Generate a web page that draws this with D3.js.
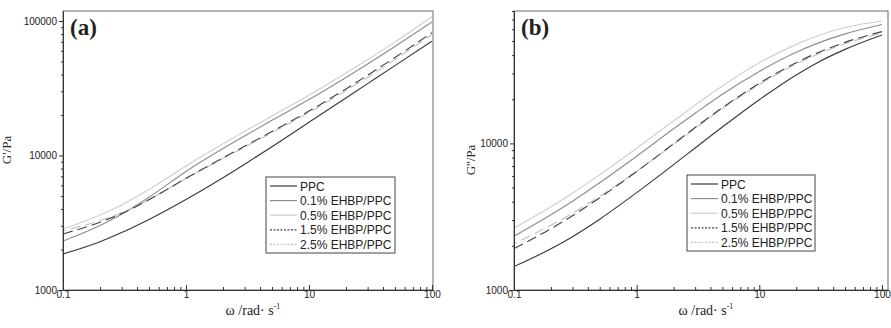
<!DOCTYPE html>
<html>
<head>
<meta charset="utf-8">
<script src="https://cdn.jsdelivr.net/npm/d3@7"></script>
<style>
  body { margin: 0; background: #fff; }
  svg { display: block; }
  .tick text { font-family: 'Liberation Sans', Arial, sans-serif; font-size: 10px; fill: #222; }
  .tick line { stroke: #333; }
  .legend text { font-family: 'Liberation Sans', Arial, sans-serif; font-size: 12px; fill: #222; }
  .title { font-family: 'Liberation Serif', 'Times New Roman', serif; fill: #222; }
</style>
</head>
<body>
<svg id="chart" width="891" height="328"></svg>
<script>
// angular frequency, rad/s
const omega = [0.1, 0.2, 0.3, 0.5, 1, 2, 3, 5, 10, 20, 30, 50, 100];

const seriesNames = ['PPC', '0.1% EHBP/PPC', '0.5% EHBP/PPC', '1.5% EHBP/PPC', '2.5% EHBP/PPC'];

// (a) storage modulus G', Pa
const gStorePPC = [1853, 2286, 2672, 3344, 4709, 6839, 8617, 11630, 17650, 26810, 34240, 46600, 70770];
const gStore01 = [2313, 3017, 3660, 4889, 7617, 11270, 13990, 18270, 26040, 38080, 47970, 64750, 98300];
const gStore05 = [2840, 3617, 4293, 5578, 8369, 12240, 15130, 19670, 28030, 40990, 51640, 69670, 108000];
const gStore15 = [2609, 3192, 3705, 4684, 6768, 9598, 11730, 15080, 21380, 31270, 39540, 53530, 81850];
const gStore25 = [2746, 3286, 3750, 4700, 6734, 9499, 11570, 14800, 20840, 30330, 38210, 51640, 79380];

// (b) loss modulus G'', Pa
const gLossPPC = [1445, 1910, 2312, 3041, 4613, 7164, 9305, 12930, 19860, 29290, 35680, 43800, 54890];
const gLoss01 = [2330, 3263, 4030, 5395, 8182, 12570, 16050, 21650, 30990, 41860, 48280, 55840, 64710];
const gLoss05 = [2641, 3698, 4570, 6115, 9276, 14250, 18240, 24620, 35460, 47360, 54280, 61720, 68340];
const gLoss15 = [1916, 2620, 3212, 4259, 6430, 9938, 12830, 17520, 25680, 35500, 41530, 48890, 57890];
const gLoss25 = [2072, 2768, 3341, 4360, 6450, 9844, 12650, 17300, 25200, 34740, 40620, 47890, 56460];

const xTickValues = [0.1, 1, 10, 100];
const yTickValuesA = [1000, 10000, 100000];
const yTickValuesB = [1000, 10000];

const seriesStyle = [
  { color: '#3a3a3a', dash: null, legendDash: null },
  { color: '#8e8e8e', dash: null, legendDash: null },
  { color: '#cfcfcf', dash: null, legendDash: null },
  { color: '#444444', dash: '10,5', offset: 0, legendDash: '2,1.5' },
  { color: '#c2c2c2', dash: '10,5', offset: 7, legendDash: '2,1.5' }
];

const svg = d3.select('#chart');

function drawPanel(p) {
  const x = d3.scaleLog().domain([omega[0], p.xMax]).range([p.left, p.right]);
  const y = d3.scaleLog().domain([1000, p.yMax]).range([p.bottom, p.top]);
  const g = svg.append('g');

  g.append('clipPath').attr('id', 'clip-' + p.id)
    .append('rect')
    .attr('x', p.left).attr('y', p.top)
    .attr('width', p.right - p.left).attr('height', p.bottom - p.top);

  const line = d3.line()
    .x((d, i) => x(omega[i]))
    .y(d => y(d))
    .curve(d3.curveMonotoneX);

  // draw light ones first, dark ones on top
  [2, 1, 4, 3, 0].forEach(k => {
    const s = seriesStyle[k];
    g.append('path')
      .datum(p.series[k])
      .attr('clip-path', 'url(#clip-' + p.id + ')')
      .attr('d', line)
      .attr('fill', 'none')
      .attr('stroke', s.color)
      .attr('stroke-width', 1.15)
      .attr('stroke-dasharray', s.dash)
      .attr('stroke-dashoffset', s.offset || 0);
  });

  // frame
  g.append('rect')
    .attr('x', p.left).attr('y', p.top)
    .attr('width', p.right - p.left).attr('height', p.bottom - p.top)
    .attr('fill', 'none').attr('stroke', '#6a6a6a').attr('stroke-width', 1);

  // y axis
  const yMinor = y.ticks().filter(v => p.yTicks.indexOf(v) < 0);
  g.append('g')
    .attr('transform', `translate(${p.left},0)`)
    .call(d3.axisLeft(y).tickValues(yMinor).tickSize(2).tickSizeOuter(0).tickFormat(''))
    .call(a => a.select('.domain').remove());
  g.append('g')
    .attr('transform', `translate(${p.left},0)`)
    .call(d3.axisLeft(y).tickValues(p.yTicks).tickSize(4).tickSizeOuter(0).tickPadding(2).tickFormat(d3.format('d')))
    .call(a => a.select('.domain').attr('stroke', '#333'));

  // x axis, ticks point inward
  const xMinor = x.ticks().filter(v => xTickValues.indexOf(v) < 0);
  g.append('g')
    .attr('transform', `translate(0,${p.bottom})`)
    .call(d3.axisBottom(x).tickValues(xMinor).tickSize(-3).tickSizeOuter(0).tickFormat(''))
    .call(a => a.select('.domain').remove());
  g.append('g')
    .attr('transform', `translate(0,${p.bottom})`)
    .call(d3.axisBottom(x).tickValues(xTickValues).tickSize(-5).tickSizeOuter(0).tickPadding(1).tickFormat(d => String(d)))
    .call(a => a.select('.domain').attr('stroke', '#333'));

  // titles
  const xt = g.append('text').attr('class', 'title')
    .attr('x', (p.left + p.right) / 2 + 5).attr('y', 315)
    .attr('text-anchor', 'middle').style('font-size', '14px');
  xt.append('tspan').text('\u03c9 /rad\u00b7  s');
  xt.append('tspan').attr('dy', -6).style('font-size', '8px').text('-1');

  g.append('text').attr('class', 'title')
    .attr('transform', `translate(${p.yTitleX},${p.yTitleY}) rotate(-90)`)
    .attr('text-anchor', 'middle').style('font-size', '13px')
    .text(p.yTitle);

  g.append('text').attr('class', 'title')
    .attr('x', p.left + 7).attr('y', 35)
    .style('font-size', '23px').style('font-weight', 'bold')
    .text(p.label);

  // legend
  const lg = g.append('g').attr('class', 'legend')
    .attr('transform', `translate(${p.legendX},${p.legendY})`);
  lg.append('rect')
    .attr('width', p.legendW).attr('height', 76)
    .attr('fill', '#fff').attr('stroke', '#444').attr('stroke-width', 1);
  seriesNames.forEach((name, k) => {
    const ry = 9 + k * 14.6;
    lg.append('line')
      .attr('x1', 4).attr('x2', 31).attr('y1', ry).attr('y2', ry)
      .attr('stroke', seriesStyle[k].color).attr('stroke-width', 1.2)
      .attr('stroke-dasharray', seriesStyle[k].legendDash);
    lg.append('text').attr('x', 34).attr('y', ry + 4.5).text(name);
  });
}

drawPanel({
  id: 'a', label: '(a)', yTitle: "G'/Pa",
  left: 63, right: 433, top: 11, bottom: 290,
  xMax: 102, yMax: 118700, yTicks: yTickValuesA,
  yTitleX: 11, yTitleY: 150,
  legendX: 266, legendY: 177, legendW: 129,
  series: [gStorePPC, gStore01, gStore05, gStore15, gStore25]
});

drawPanel({
  id: 'b', label: '(b)', yTitle: "G''/Pa",
  left: 514, right: 888, top: 11, bottom: 290,
  xMax: 112, yMax: 80000, yTicks: yTickValuesB,
  yTitleX: 475, yTitleY: 160,
  legendX: 687, legendY: 175, legendW: 128,
  series: [gLossPPC, gLoss01, gLoss05, gLoss15, gLoss25]
});
</script>
</body>
</html>
